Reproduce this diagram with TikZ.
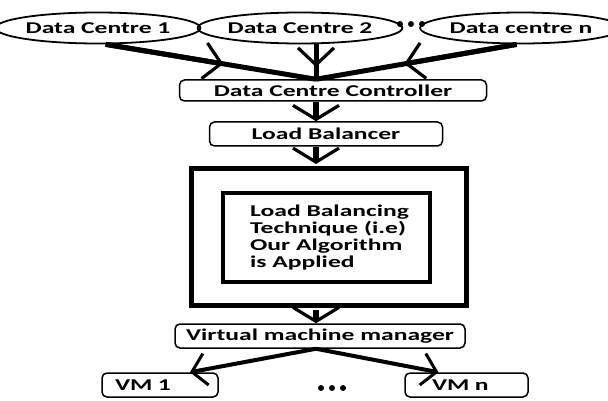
\documentclass[tikz,border=0pt]{standalone}
\usepackage{fontspec}
\setmainfont{Carlito}[FakeStretch=1.55]
\usetikzlibrary{arrows.meta,shapes.geometric,calc}
\tikzset{
  vtip/.tip={Straight Barb[length=17pt,width=36pt,line width=3.2pt]},
  ltip/.tip={Straight Barb[length=14pt,width=46pt,line width=3.2pt]},
  stip/.tip={Straight Barb[length=14pt,width=32pt,line width=3pt]}
}
\begin{document}
\begin{tikzpicture}[x=1pt,y=-1pt,
  every node/.style={font=\bfseries\fontsize{16.5}{17}\selectfont, inner sep=0pt},
  dcell/.style={ellipse, draw, line width=1.8pt, minimum height=31pt},
  rbox/.style={draw, rounded corners=5pt, line width=1.5pt},
  feed/.style={line width=5pt},
  feedtip/.style={line width=5pt, -{vtip}},
  link/.style={line width=6pt, -{ltip}},
  split/.style={line width=4pt, -{stip}},
  dotc/.style={fill=black}
]
\useasboundingbox[fill=white] (0,0) rectangle (608,401);

% data centres
\node[dcell, minimum width=180pt] (dc1) at (98,28) {Data Centre 1};
\node[dcell, minimum width=185pt] (dc2) at (300,28) {Data Centre 2};
\node[dcell, minimum width=170pt] (dcn) at (521,28) {Data centre n};
\fill[dotc] (400,24) circle (3pt) (411,24) circle (3pt) (422,24) circle (3pt);

% controller and balancer
\node[rbox, minimum width=307pt, minimum height=21pt] (ctrl) at (333,90.5) {Data Centre Controller};
\coordinate (hub) at ([xshift=-17pt]ctrl.north);
\node[rbox, minimum width=233pt, minimum height=24pt] (lb) at (326,134) {Load Balancer};

% frames
\node[draw, line width=5pt, minimum width=275pt, minimum height=136pt] (frame) at (328.5,237) {};
\node[draw, line width=4pt, minimum width=207pt, minimum height=89pt] (inner) at (326.5,237.5) {};
\node[anchor=west, align=left] (algo) at (250,238)
  {Load Balancing\\Technique (i.e)\\Our Algorithm\\is Applied};

% VM manager and VMs
\node[rbox, minimum width=290pt, minimum height=24pt] (vmm) at (320,336) {Virtual machine manager};
\node[rbox, minimum width=116pt, minimum height=24pt, text width=90pt, align=left] (vm1) at (160,385) {VM 1};
\node[rbox, minimum width=123pt, minimum height=24pt, text width=69pt, align=left] (vmn) at (466.5,385) {VM n};
\fill[dotc] (321,388) circle (3pt) (332,388) circle (3pt) (343,388) circle (3pt);

% connectors
\draw[feed] (dc1.-65) -- (hub);
\draw[feedtip] (dc1.-65) -- ($(dc1.-65)!0.56!(hub)$);
\draw[feed] (dc2.south -| hub) -- (hub);
\draw[feedtip] (dc2.south -| hub) -- ($(dc2.south -| hub)!0.65!(hub)$);
\draw[feed] (dcn.-105) -- (hub);
\draw[feedtip] (dcn.-105) -- ($(dcn.-105)!0.56!(hub)$);
\draw[link] (ctrl.south -| hub) -- (lb.north -| hub);
\draw[link, shorten >=2.5pt] (lb.south -| hub) -- (frame.north -| hub);
\draw[link, shorten <=2.5pt] (frame.south -| hub) -- (vmm.north -| hub);
\draw[split] (vmm.south -| hub) -- ($(vm1.north)+(30,0)$);
\draw[split] (vmm.south -| hub) -- ($(vmn.north)+(-28,0)$);
\end{tikzpicture}
\end{document}
